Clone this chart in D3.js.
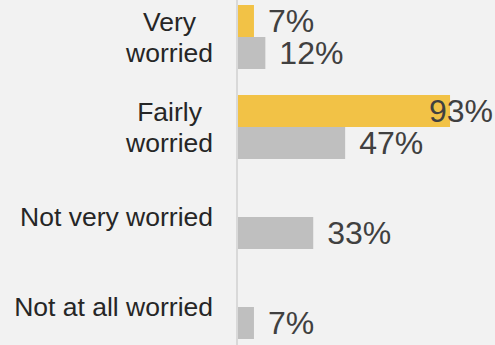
<!DOCTYPE html>
<html>
<head>
<meta charset="utf-8">
<script src="https://cdn.jsdelivr.net/npm/d3@7"></script>
<style>
  html, body { margin: 0; padding: 0; background: #f2f2f2; }
  svg { display: block; }
</style>
</head>
<body>
<script>
// Survey answers and the two response series (percent)
const categories = [["Very", "worried"], ["Fairly", "worried"], ["Not very worried"], ["Not at all worried"]];
const seriesNames = ["A", "B"];
const seriesA = [7, 93, null, null];
const seriesB = [12, 47, 33, 7];
const seriesColors = ["#f2c246", "#bfbfbf"];

const W = 495, H = 345;
const svg = d3.select("body").append("svg").attr("width", W).attr("height", H);
svg.append("rect").attr("width", W).attr("height", H).attr("fill", "#f2f2f2");

const catKeys = categories.map(c => c.join(" "));
const rows = catKeys.map((k, i) => ({ key: k, lines: categories[i], values: [seriesA[i], seriesB[i]] }));

const x = d3.scaleLinear().domain([0, 100]).range([238, 466]);
const y0 = d3.scaleBand().domain(catKeys).range([5, 339]).paddingInner(26 / 90).paddingOuter(0);
const y1 = d3.scaleBand().domain(seriesNames).range([0, y0.bandwidth()]);

// category axis line
svg.append("line")
  .attr("x1", 237).attr("x2", 237)
  .attr("y1", 0).attr("y2", H)
  .attr("stroke", "#d9d9d9").attr("stroke-width", 2);

const valueFont = 32;
const g = svg.append("g").attr("font-family", "Liberation Sans, Arial, sans-serif");

rows.forEach(r => {
  const gy = y0(r.key);
  r.values.forEach((v, si) => {
    if (v == null) return;
    const by = gy + y1(seriesNames[si]);
    g.append("rect")
      .attr("x", x(0)).attr("y", by)
      .attr("width", x(v) - x(0)).attr("height", y1.bandwidth())
      .attr("fill", seriesColors[si]);
    const t = g.append("text")
      .attr("y", by + y1.bandwidth() / 2 + valueFont * 0.358)
      .attr("font-size", valueFont)
      .attr("fill", "#404040")
      .text(v + "%");
    const tw = t.node().getComputedTextLength();
    t.attr("x", Math.min(x(v) + 14, W - 2 - tw));
  });
});

// category labels: lines centred on the widest line, block right-aligned,
// block centred vertically on the group
const labelFont = 26.5;
const lineH = 31;
rows.forEach(r => {
  const gy = y0(r.key);
  const mid = gy + y0.bandwidth() / 2;
  const lab = g.append("text")
    .attr("font-size", labelFont)
    .attr("fill", "#262626")
    .attr("text-anchor", "middle");
  const spans = r.lines.map(l => lab.append("tspan").text(l));
  const widest = d3.max(spans, s => s.node().getComputedTextLength());
  const cx = 213 - widest / 2;
  const n = r.lines.length;
  const firstBase = mid - (n - 1) * lineH / 2 + labelFont * 0.358;
  spans.forEach((s, i) => s.attr("x", cx).attr("y", firstBase + i * lineH));
});
</script>
</body>
</html>
